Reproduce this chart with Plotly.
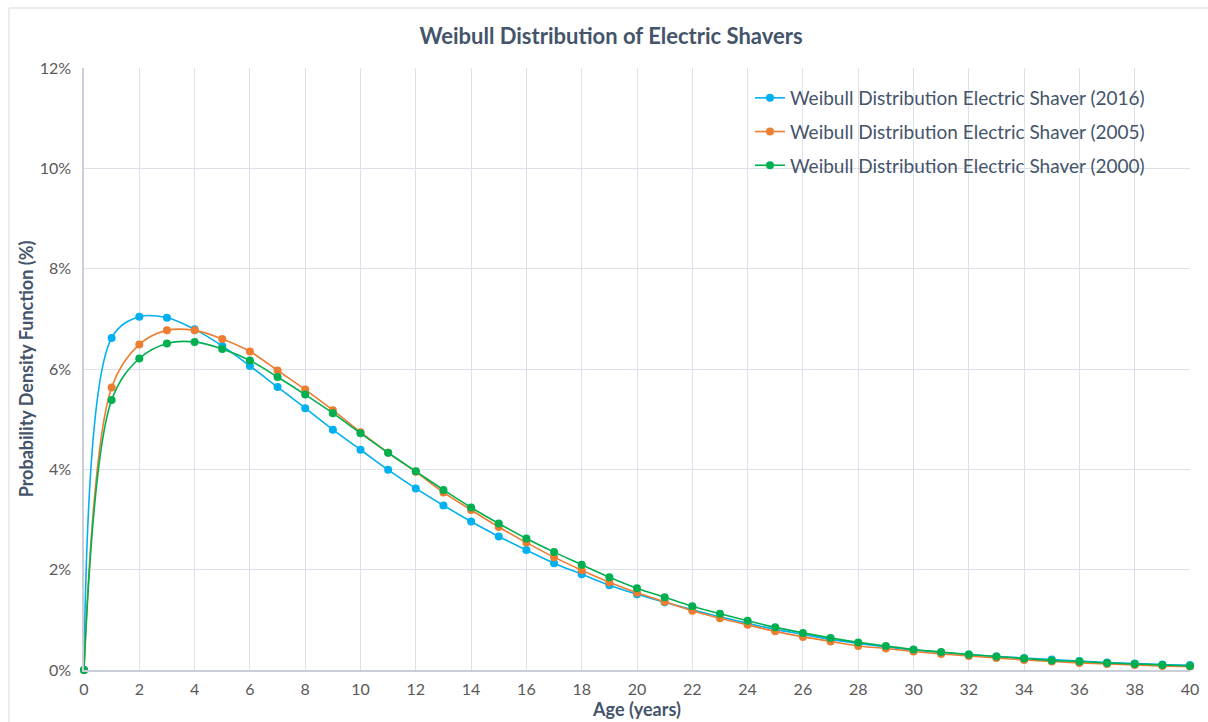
import plotly.graph_objects as go

# Age in years and Weibull probability density (%) for each survey year
ages = list(range(0, 41))

pdf_2016 = [0.00, 6.62, 7.04, 7.02, 6.79, 6.46, 6.06, 5.64, 5.22, 4.79, 4.39,
            3.99, 3.62, 3.28, 2.96, 2.66, 2.39, 2.13, 1.91, 1.69, 1.51,
            1.35, 1.20, 1.06, 0.93, 0.81, 0.71, 0.61, 0.53, 0.46, 0.40,
            0.35, 0.31, 0.27, 0.24, 0.21, 0.18, 0.15, 0.13, 0.11, 0.10]

pdf_2005 = [0.00, 5.63, 6.49, 6.77, 6.77, 6.60, 6.35, 5.97, 5.59, 5.18, 4.74,
            4.33, 3.95, 3.54, 3.19, 2.85, 2.54, 2.25, 1.99, 1.75, 1.54,
            1.36, 1.18, 1.03, 0.90, 0.77, 0.66, 0.57, 0.48, 0.43, 0.37,
            0.32, 0.28, 0.24, 0.20, 0.17, 0.14, 0.12, 0.10, 0.08, 0.07]

pdf_2000 = [0.00, 5.38, 6.21, 6.51, 6.54, 6.40, 6.17, 5.84, 5.49, 5.12, 4.72,
            4.33, 3.96, 3.59, 3.24, 2.92, 2.62, 2.35, 2.10, 1.85, 1.63,
            1.45, 1.27, 1.12, 0.98, 0.85, 0.74, 0.64, 0.55, 0.48, 0.41,
            0.36, 0.31, 0.27, 0.23, 0.19, 0.17, 0.14, 0.12, 0.10, 0.08]

series_names = ["Weibull Distribution Electric Shaver (2016)",
                "Weibull Distribution Electric Shaver (2005)",
                "Weibull Distribution Electric Shaver (2000)"]
series_values = [pdf_2016, pdf_2005, pdf_2000]
series_colors = ["#00B0F0", "#ED7D31", "#00B050"]

x_ticks = list(range(0, 41, 2))
y_ticks = list(range(0, 13, 2))

FONT = "Lato, 'Open Sans', sans-serif"
TEXT = "#44546A"
TICK = "#595959"
GRID = "#DCE0E8"

fig = go.Figure()
for i, (name, vals, col) in enumerate(zip(series_names, series_values, series_colors)):
    fig.add_trace(go.Scatter(
        x=ages, y=vals, name=name, mode="lines+markers",
        legendgroup=f"g{i}",
        line=dict(color=col, width=1.6, shape="spline", smoothing=1.0),
        marker=dict(color=col, size=8),
        cliponaxis=False,
    ))

W, H = 1208, 722
L, R, T, B = 84, 18, 68, 52
pw, ph = W - L - R, H - T - B


def px_x(p):
    return (p - L) / pw


def px_y(p):
    return (H - B - p) / ph


fig.update_layout(
    width=W, height=H,
    margin=dict(l=L, r=R, t=T, b=B),
    paper_bgcolor="white", plot_bgcolor="white",
    font=dict(family=FONT, color=TICK, size=16),
    title=dict(text="<b>Weibull Distribution of Electric Shavers</b>",
               x=611 / W, xref="container", xanchor="center",
               y=1 - 36 / H, yanchor="middle",
               font=dict(family=FONT, size=22, color=TEXT)),
    xaxis=dict(
        range=[0, 40], tickvals=x_ticks, ticktext=[str(v) for v in x_ticks],
        showgrid=True, gridcolor=GRID, gridwidth=1,
        showline=True, linecolor="#C9CED8", linewidth=1.5,
        zeroline=False, ticks="", ticklabelstandoff=4, automargin=False,
        tickfont=dict(size=16, color=TICK),
        title=dict(text="<b>Age (years)</b>", standoff=4,
                   font=dict(size=18, color=TEXT)),
    ),
    yaxis=dict(
        range=[0, 12], tickvals=y_ticks, ticktext=[f"{v}%" for v in y_ticks],
        showgrid=True, gridcolor=GRID, gridwidth=1,
        showline=True, linecolor="#C9CED8", linewidth=1.5,
        zeroline=False, ticks="", ticklabelstandoff=8, automargin=False,
        tickfont=dict(size=16, color=TICK),
        title=dict(text="<b>Probability Density Function (%)</b>", standoff=1,
                   font=dict(size=18, color=TEXT)),
    ),
    legend=dict(
        x=px_x(750), y=px_y(79), xanchor="left", yanchor="top",
        bgcolor="rgba(0,0,0,0)", font=dict(size=19, color=TEXT),
        itemwidth=30, tracegroupgap=6,
    ),
    showlegend=True,
    shapes=[dict(type="rect", xref="paper", yref="paper",
                 x0=px_x(9), x1=px_x(1240), y0=px_y(760), y1=px_y(8),
                 line=dict(color="#D9D9D9", width=1), fillcolor="rgba(0,0,0,0)",
                 layer="below")],
)

fig.write_html("out.html")
